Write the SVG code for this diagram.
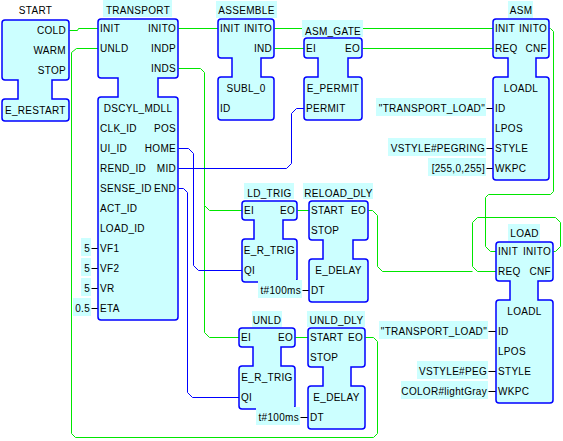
<svg xmlns="http://www.w3.org/2000/svg" width="563" height="441" viewBox="0 0 563 441">
<style>
.blk{fill:#ccffff;stroke:#0000ff;stroke-width:1.5}
.bg{fill:#ccffff}
.ev{fill:none;stroke:#00e600;stroke-width:1}
.dt{fill:none;stroke:#0000ff;stroke-width:1}
.cl{fill:none;stroke:#000;stroke-width:1}
text{font-family:"Liberation Sans",Arial,sans-serif;font-size:10px;letter-spacing:0.3px;fill:#000}
.r{text-anchor:end}
.m{text-anchor:middle}
</style>
<rect width="563" height="441" fill="#fff"/>
<g id="connectors" transform="translate(0.5,0.5)">
<path class="ev" d="M69,30 H77 L78,28 H98"/>
<path class="ev" d="M365,337 H373 L377,341 V433 L373,437 H75 L71,433 V52 L76,48 H98"/>
<path class="ev" d="M178,28 H218"/>
<path class="ev" d="M178,68 H200 L204,72 V205 L209,210 H242"/>
<path class="ev" d="M204,205 V332 L209,337 H239"/>
<path class="ev" d="M274,28 H493"/>
<path class="ev" d="M274,48 H304"/>
<path class="ev" d="M362,48 H493"/>
<path class="ev" d="M549,28 H550 L553,31 V191 L550,194 H488 L485,197 V246 L490,251 H496"/>
<path class="ev" d="M553,251 H555 L560,246 V222 L555,217 H477 L472,222 V266 L477,271 H496"/>
<path class="ev" d="M368,210 H372 L377,215 V266 L382,271 H472"/>
<path class="ev" d="M297,210 H309"/>
<path class="ev" d="M295,337 H308"/>
<path class="dt" d="M178,168 H286 L291,163 V113 L296,108 H304"/>
<path class="dt" d="M178,148 H188 L193,153 V265 L198,270 H242"/>
<path class="dt" d="M178,188 H183 L187,192 V392 L192,397 H239"/>
<path class="cl" d="M91,248 H98 M91,268 H98 M91,288 H98 M91,308 H98"/>
<path class="cl" d="M486,108 H493 M486,148 H493 M486,168 H493"/>
<path class="cl" d="M302,290 H309 M300,417 H308"/>
<path class="cl" d="M488,331 H496 M488,371 H496 M488,391 H496"/>
</g>
<g id="START">
<path class="blk" d="M5,20 H66 Q69,20 69,23 V77 Q69,80 66,80 H52 V99 H66 Q69,99 69,102 V118 Q69,121 66,121 H5 Q2,121 2,118 V102 Q2,99 5,99 H18 V80 H5 Q2,80 2,77 V23 Q2,20 5,20 Z"/>
<text class="m" x="35.5" y="14">START</text>
<text class="r" x="66" y="34">COLD</text>
<text class="r" x="66" y="54">WARM</text>
<text class="r" x="66" y="74">STOP</text>
<text x="5" y="114">E_RESTART</text>
</g>
<g id="TRANSPORT">
<path class="blk" d="M101,19 H175 Q178,19 178,22 V75 Q178,78 175,78 H158 V97 H175 Q178,97 178,100 V317 Q178,320 175,320 H101 Q98,320 98,317 V100 Q98,97 101,97 H118 V78 H101 Q98,78 98,75 V22 Q98,19 101,19 Z"/>
<rect class="bg" x="103" y="0" width="69" height="17"/>
<text class="m" x="138" y="14">TRANSPORT</text>
<text x="100" y="32">INIT</text>
<text x="100" y="52">UNLD</text>
<text class="r" x="176" y="32">INITO</text>
<text class="r" x="176" y="52">INDP</text>
<text class="r" x="176" y="72">INDS</text>
<text class="m" x="138" y="112">DSCYL_MDLL</text>
<text x="100" y="132">CLK_ID</text>
<text class="r" x="176" y="132">POS</text>
<text x="100" y="152">UI_ID</text>
<text class="r" x="176" y="152">HOME</text>
<text x="100" y="172">REND_ID</text>
<text class="r" x="176" y="172">MID</text>
<text x="100" y="192">SENSE_ID</text>
<text class="r" x="176" y="192">END</text>
<text x="100" y="212">ACT_ID</text>
<text x="100" y="232">LOAD_ID</text>
<text x="100" y="252">VF1</text>
<text x="100" y="272">VF2</text>
<text x="100" y="292">VR</text>
<text x="100" y="312">ETA</text>
<rect class="bg" x="81" y="238" width="10" height="18"/>
<rect class="bg" x="81" y="258" width="10" height="18"/>
<rect class="bg" x="81" y="278" width="10" height="18"/>
<rect class="bg" x="73" y="298" width="18" height="18"/>
<text class="r" x="90" y="252">5</text>
<text class="r" x="90" y="272">5</text>
<text class="r" x="90" y="292">5</text>
<text class="r" x="90" y="312">0.5</text>
</g>
<g id="ASSEMBLE">
<path class="blk" d="M221,19 H271 Q274,19 274,22 V55 Q274,58 271,58 H261 V77 H271 Q274,77 274,80 V117 Q274,120 271,120 H221 Q218,120 218,117 V80 Q218,77 221,77 H232 V58 H221 Q218,58 218,55 V22 Q218,19 221,19 Z"/>
<rect class="bg" x="216" y="1" width="61" height="17"/>
<text class="m" x="246.5" y="14">ASSEMBLE</text>
<text x="220" y="32">INIT</text>
<text class="r" x="272" y="32">INITO</text>
<text class="r" x="272" y="52">IND</text>
<text class="m" x="246" y="92">SUBL_0</text>
<text x="220" y="112">ID</text>
</g>
<g id="ASM_GATE">
<path class="blk" d="M307,38 H359 Q362,38 362,41 V55 Q362,58 359,58 H348 V77 H359 Q362,77 362,80 V117 Q362,120 359,120 H307 Q304,120 304,117 V80 Q304,77 307,77 H318 V58 H307 Q304,58 304,55 V41 Q304,38 307,38 Z"/>
<rect class="bg" x="302" y="20" width="61" height="17"/>
<text class="m" x="333" y="35">ASM_GATE</text>
<text x="306" y="52">EI</text>
<text class="r" x="360" y="52">EO</text>
<text class="m" x="333" y="92">E_PERMIT</text>
<text x="306" y="112">PERMIT</text>
</g>
<g id="ASM">
<path class="blk" d="M496,19 H546 Q549,19 549,22 V55 Q549,58 546,58 H536 V77 H546 Q549,77 549,80 V177 Q549,180 546,180 H496 Q493,180 493,177 V80 Q493,77 496,77 H508 V58 H496 Q493,58 493,55 V22 Q493,19 496,19 Z"/>
<rect class="bg" x="508" y="1" width="25" height="17"/>
<text class="m" x="521" y="14">ASM</text>
<text x="495" y="32">INIT</text>
<text class="r" x="547" y="32">INITO</text>
<text x="495" y="52">REQ</text>
<text class="r" x="547" y="52">CNF</text>
<text class="m" x="521" y="92">LOADL</text>
<text x="495" y="112">ID</text>
<text x="495" y="132">LPOS</text>
<text x="495" y="152">STYLE</text>
<text x="495" y="172">WKPC</text>
<rect class="bg" x="376" y="98" width="110" height="18"/>
<rect class="bg" x="388" y="138" width="98" height="18"/>
<rect class="bg" x="428" y="158" width="58" height="18"/>
<text class="r" x="485" y="112">"TRANSPORT_LOAD"</text>
<text class="r" x="485" y="152">VSTYLE#PEGRING</text>
<text class="r" x="485" y="172">[255,0,255]</text>
</g>
<g id="LD_TRIG">
<path class="blk" d="M245,201 H294 Q297,201 297,204 V217 Q297,220 294,220 H283 V239 H294 Q297,239 297,242 V279 Q297,282 294,282 H245 Q242,282 242,279 V242 Q242,239 245,239 H254 V220 H245 Q242,220 242,217 V204 Q242,201 245,201 Z"/>
<rect class="bg" x="244" y="183" width="50" height="16"/>
<text class="m" x="269.5" y="197">LD_TRIG</text>
<text x="244" y="214">EI</text>
<text class="r" x="295" y="214">EO</text>
<text class="m" x="269.5" y="254">E_R_TRIG</text>
<text x="244" y="274">QI</text>
</g>
<g id="RELOAD_DLY">
<path class="blk" d="M312,201 H365 Q368,201 368,204 V237 Q368,240 365,240 H353 V259 H365 Q368,259 368,262 V299 Q368,302 365,302 H312 Q309,302 309,299 V262 Q309,259 312,259 H323 V240 H312 Q309,240 309,237 V204 Q309,201 312,201 Z"/>
<rect class="bg" x="303" y="183" width="70" height="16"/>
<text class="m" x="338.5" y="197">RELOAD_DLY</text>
<text x="311" y="214">START</text>
<text class="r" x="366" y="214">EO</text>
<text x="311" y="234">STOP</text>
<text class="m" x="338.5" y="274">E_DELAY</text>
<text x="311" y="294">DT</text>
<rect class="bg" x="258" y="280" width="44" height="18"/>
<text class="r" x="301" y="294">t#100ms</text>
</g>
<g id="UNLD">
<path class="blk" d="M242,328 H292 Q295,328 295,331 V344 Q295,347 292,347 H281 V366 H292 Q295,366 295,369 V406 Q295,409 292,409 H242 Q239,409 239,406 V369 Q239,366 242,366 H253 V347 H242 Q239,347 239,344 V331 Q239,328 242,328 Z"/>
<rect class="bg" x="252" y="311" width="30" height="16"/>
<text class="m" x="267" y="324">UNLD</text>
<text x="241" y="341">EI</text>
<text class="r" x="293" y="341">EO</text>
<text class="m" x="267" y="381">E_R_TRIG</text>
<text x="241" y="401">QI</text>
</g>
<g id="UNLD_DLY">
<path class="blk" d="M311,328 H362 Q365,328 365,331 V364 Q365,367 362,367 H351 V386 H362 Q365,386 365,389 V426 Q365,429 362,429 H311 Q308,429 308,426 V389 Q308,386 311,386 H323 V367 H311 Q308,367 308,364 V331 Q308,328 311,328 Z"/>
<rect class="bg" x="307" y="311" width="58" height="16"/>
<text class="m" x="336.5" y="324">UNLD_DLY</text>
<text x="310" y="341">START</text>
<text class="r" x="363" y="341">EO</text>
<text x="310" y="361">STOP</text>
<text class="m" x="336.5" y="401">E_DELAY</text>
<text x="310" y="421">DT</text>
<rect class="bg" x="256" y="407" width="44" height="18"/>
<text class="r" x="299" y="421">t#100ms</text>
</g>
<g id="LOAD">
<path class="blk" d="M499,242 H550 Q553,242 553,245 V278 Q553,281 550,281 H538 V300 H550 Q553,300 553,303 V400 Q553,403 550,403 H499 Q496,403 496,400 V303 Q496,300 499,300 H510 V281 H499 Q496,281 496,278 V245 Q496,242 499,242 Z"/>
<rect class="bg" x="508" y="224" width="32" height="17"/>
<text class="m" x="524.5" y="237">LOAD</text>
<text x="498" y="255">INIT</text>
<text class="r" x="551" y="255">INITO</text>
<text x="498" y="275">REQ</text>
<text class="r" x="551" y="275">CNF</text>
<text class="m" x="524.5" y="315">LOADL</text>
<text x="498" y="335">ID</text>
<text x="498" y="355">LPOS</text>
<text x="498" y="375">STYLE</text>
<text x="498" y="395">WKPC</text>
<rect class="bg" x="379" y="321" width="109" height="18"/>
<rect class="bg" x="417" y="361" width="71" height="18"/>
<rect class="bg" x="401" y="381" width="87" height="18"/>
<text class="r" x="487" y="335">"TRANSPORT_LOAD"</text>
<text class="r" x="487" y="375">VSTYLE#PEG</text>
<text class="r" x="487" y="395">COLOR#lightGray</text>
</g>
</svg>
